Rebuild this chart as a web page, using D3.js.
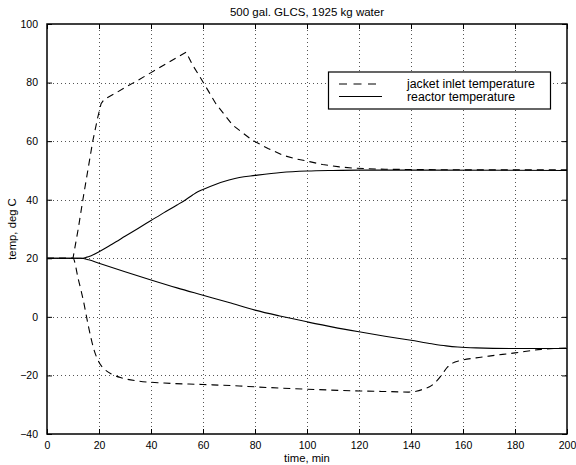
<!DOCTYPE html>
<html>
<head>
<meta charset="utf-8">
<script src="https://d3js.org/d3.v7.min.js"></script>
<style>
  body { margin: 0; background: #fff; }
  svg text { font-family: "Liberation Sans", Arial, sans-serif; fill: #000; }
</style>
</head>
<body>
<div id="chart"></div>
<script>
// time axis [min] and temperatures [deg C]

// heating run: jacket inlet
const timeJacketHeat = [0, 10, 12, 13.8, 15.7, 17.6, 19.5, 20.8, 22, 26, 30, 35, 40, 45, 50, 53.5,
  56, 60, 65, 71.5, 79, 85, 90.7, 95, 101, 106, 112.5, 118, 123, 130, 140, 160, 200];
const jacketHeat = [20, 20, 30, 40, 50, 60, 68, 72.8, 74.3, 76.2, 78.3, 80.8, 83.4, 86, 88.6, 90.4,
  86, 80.2, 72.7, 65.4, 60.3, 57.5, 55.2, 54.1, 53, 52, 51.2, 50.8, 50.6, 50.4, 50.3, 50.2, 50.2];

// heating run: reactor
const timeReactorHeat = [0, 13, 15, 17, 20, 25, 30, 35, 40, 45, 50, 53.5, 56, 58, 60, 65, 70, 74,
  80, 90, 100, 110, 120, 140, 200];
const reactorHeat = [20, 20, 20.3, 20.9, 22.2, 24.8, 27.5, 30.2, 32.9, 35.6, 38.2, 40.1, 41.6, 42.7,
  43.5, 45.3, 46.7, 47.6, 48.3, 49.3, 49.8, 50, 50.1, 50.1, 50];

// cooling run: jacket inlet
const timeJacketCool = [0, 10, 12, 14, 16, 18, 20, 22, 25, 28.5, 35, 45, 60, 74, 80, 100, 120,
  135, 139, 142, 145, 148, 150, 152, 154, 156, 159, 165, 170, 180, 190, 200];
const jacketCool = [20, 20, 13, 5.5, -3.5, -11, -15.5, -17.8, -19.6, -20.8, -21.9, -22.6, -23.1,
  -23.6, -23.9, -24.7, -25.3, -25.6, -25.7, -25.4, -24.6, -23.4, -21.8, -19.6, -17.2, -15.8,
  -14.9, -14, -13.4, -12.3, -11.1, -10.6];

// cooling run: reactor
const timeReactorCool = [0, 13, 16, 20, 30, 40, 50, 60, 70, 80, 90, 100, 110, 120, 130, 140,
  148, 153.5, 158, 165, 180, 200];
const reactorCool = [20, 20, 19.5, 18.3, 15.4, 12.6, 9.9, 7.4, 4.9, 2.3, 0.2, -1.7, -3.5, -5.1,
  -6.6, -8, -9.2, -9.9, -10.3, -10.6, -10.8, -10.8];

const xTicks = [0, 20, 40, 60, 80, 100, 120, 140, 160, 180, 200];
const yTicks = [-40, -20, 0, 20, 40, 60, 80, 100];

const legendLabels = ["jacket inlet temperature", "reactor temperature"];

function drawChart() {
  const width = 576;
  const height = 465;
  const plot = { left: 47, right: 567, top: 24, bottom: 434 };
  const dashes = "7,5";
  const dotStep = 4;

  const svg = d3
    .select("#chart")
    .append("svg")
    .attr("width", width)
    .attr("height", height);

  svg.append("rect").attr("width", width).attr("height", height).attr("fill", "#fff");

  const x = d3.scaleLinear().domain([0, 200]).range([plot.left, plot.right]);
  const y = d3.scaleLinear().domain([-40, 100]).range([plot.bottom, plot.top]);

  // dotted grid, one small square per dot
  const grid = svg.append("g").attr("fill", "#555").attr("shape-rendering", "crispEdges");
  xTicks.slice(1, -1).forEach((t) => {
    const gx = Math.round(x(t));
    grid.selectAll(null)
      .data(d3.range(plot.top + 2, plot.bottom, dotStep))
      .enter()
      .append("rect")
      .attr("x", gx)
      .attr("y", (d) => Math.round(d))
      .attr("width", 1)
      .attr("height", 1);
  });
  yTicks.slice(1, -1).forEach((t) => {
    const gy = Math.round(y(t));
    grid.selectAll(null)
      .data(d3.range(plot.left + 2, plot.right, dotStep))
      .enter()
      .append("rect")
      .attr("x", (d) => Math.round(d))
      .attr("y", gy)
      .attr("width", 1)
      .attr("height", 1);
  });

  // axes with inward ticks on all four sides
  const tickLen = 5;
  const bottomAxis = svg.append("g")
    .attr("transform", `translate(0,${plot.bottom})`)
    .call(d3.axisBottom(x).tickValues(xTicks).tickSize(-tickLen).tickPadding(7.5));
  const topAxis = svg.append("g")
    .attr("transform", `translate(0,${plot.top})`)
    .call(d3.axisTop(x).tickValues(xTicks).tickSize(-tickLen).tickFormat(""));
  const leftAxis = svg.append("g")
    .attr("transform", `translate(${plot.left},0)`)
    .call(d3.axisLeft(y).tickValues(yTicks).tickSize(-tickLen).tickPadding(9));
  const rightAxis = svg.append("g")
    .attr("transform", `translate(${plot.right},0)`)
    .call(d3.axisRight(y).tickValues(yTicks).tickSize(-tickLen).tickFormat(""));

  [bottomAxis, topAxis, leftAxis, rightAxis].forEach((a) => {
    a.select(".domain").remove();
    a.selectAll("line").attr("stroke", "#000");
    a.selectAll("text").attr("font-size", "10.5px")
      .attr("font-family", "Liberation Sans, Arial, sans-serif");
  });

  // data lines
  const series = [
    { t: timeJacketHeat, v: jacketHeat, dash: dashes, curve: d3.curveLinear },
    { t: timeReactorHeat, v: reactorHeat, dash: null, curve: d3.curveMonotoneX },
    { t: timeJacketCool, v: jacketCool, dash: dashes, curve: d3.curveMonotoneX },
    { t: timeReactorCool, v: reactorCool, dash: null, curve: d3.curveMonotoneX },
  ];

  series.forEach((s) => {
    const line = d3.line()
      .x((d, i) => x(s.t[i]))
      .y((d) => y(d))
      .curve(s.curve);
    svg.append("path")
      .datum(s.v)
      .attr("d", line)
      .attr("fill", "none")
      .attr("stroke", "#000")
      .attr("stroke-width", 1.1)
      .attr("stroke-dasharray", s.dash);
  });

  // box
  svg.append("rect")
    .attr("x", plot.left)
    .attr("y", plot.top)
    .attr("width", plot.right - plot.left)
    .attr("height", plot.bottom - plot.top)
    .attr("fill", "none")
    .attr("stroke", "#000")
    .attr("stroke-width", 1.5);

  // legend
  const legend = svg.append("g");
  legend.append("rect")
    .attr("x", 328.5)
    .attr("y", 72)
    .attr("width", 222)
    .attr("height", 37)
    .attr("fill", "#fff")
    .attr("stroke", "#000")
    .attr("stroke-width", 1.2);
  legendLabels.forEach((label, i) => {
    const ly = 84 + i * 12.5;
    legend.append("line")
      .attr("x1", 339)
      .attr("x2", 382)
      .attr("y1", ly)
      .attr("y2", ly)
      .attr("stroke", "#000")
      .attr("stroke-width", 1.1)
      .attr("stroke-dasharray", i === 0 ? "8,6.5" : null);
    legend.append("text")
      .attr("x", 407)
      .attr("y", ly + 4.2)
      .attr("font-size", "12.3px")
      .text(label);
  });

  // title and axis labels
  svg.append("text")
    .attr("x", (plot.left + plot.right) / 2)
    .attr("y", 15.5)
    .attr("text-anchor", "middle")
    .attr("font-size", "11.5px")
    .text("500 gal. GLCS, 1925 kg water");

  svg.append("text")
    .attr("x", (plot.left + plot.right) / 2)
    .attr("y", 462)
    .attr("text-anchor", "middle")
    .attr("font-size", "11.3px")
    .text("time, min");

  svg.append("text")
    .attr("transform", `translate(16,${(plot.top + plot.bottom) / 2}) rotate(-90)`)
    .attr("text-anchor", "middle")
    .attr("font-size", "11.3px")
    .text("temp, deg C");
}

drawChart();
</script>
</body>
</html>
